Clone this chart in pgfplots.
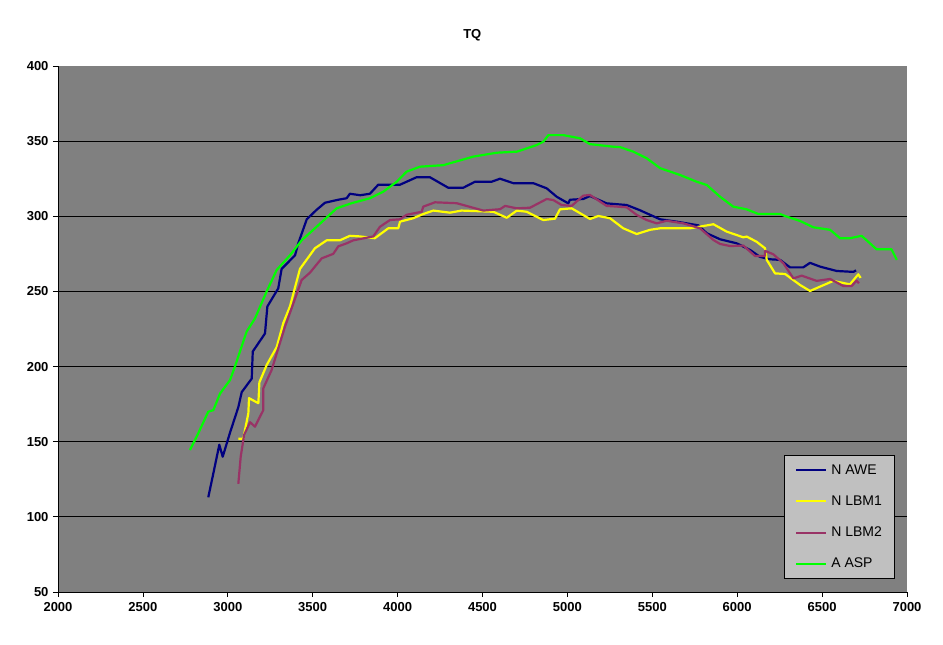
\documentclass[border=0pt]{standalone}
\usepackage{pgfplots}
\pgfplotsset{compat=1.18}
\usepackage{fontspec}
\setmainfont{Liberation Sans}

\definecolor{awe}{HTML}{000080}
\definecolor{lbmone}{HTML}{FFFF00}
\definecolor{lbmtwo}{HTML}{993366}
\definecolor{asp}{HTML}{00FF00}
\definecolor{plotbg}{HTML}{808080}
\definecolor{legbg}{HTML}{C0C0C0}

\begin{document}
\begin{tikzpicture}
\begin{axis}[
    name=ax,
    scale only axis,
    width=849pt, height=526pt,
    xmin=2000, xmax=7000,
    ymin=50, ymax=400,
    xtick={2000,2500,...,7000},
    ytick={50,100,...,400},
    axis lines*=left,
    axis line style={-, black, line width=0.8pt},
    axis background/.style={fill=plotbg},
    tick align=outside,
    major tick length=5pt,
    tick style={black, line width=0.8pt},
    extra y ticks={100,150,...,350},
    extra y tick labels={},
    extra y tick style={grid=major, major tick length=0pt},
    grid style={black, line width=0.8pt},
    /pgf/number format/assume math mode=true,
    /pgf/number format/1000 sep={},
    ticklabel style={font=\fontsize{13}{15}\selectfont\bfseries},
    xticklabel style={yshift=-2pt},
    yticklabel style={xshift=-1pt},
    title={TQ},
    title style={at={(0.488,1)}, anchor=center, yshift=25pt, font=\fontsize{13}{15}\selectfont\bfseries},
    legend style={at={(0.855,0.260)}, anchor=north west, fill=legbg, draw=black,
        line width=0.8pt, font=\fontsize{14}{16}\selectfont, inner xsep=11pt, inner ysep=7pt,
        nodes={inner sep=2pt, text=black}, row sep=16pt, column sep=2pt},
    legend cell align=left,
    legend image code/.code={\draw[#1, line width=2pt] (0pt,0pt) -- (30pt,0pt);},
    every axis plot/.append style={line width=2.2pt, line join=round},
]
\addplot[awe] coordinates {
(2885,113)(2915,129)(2950,148)(2970,140)(3013,156)(3062,173)(3082,183)(3141,192)
(3147,210)(3219,222)(3233,240)(3297,252)(3317,265)(3396,274)(3415,282)(3465,298)
(3520,304)(3572,309)(3650,311)(3700,312)(3719,315)(3780,314)(3837,315)(3886,321)
(3960,321)(4014,321)(4073,324)(4112,326)(4190,326)(4298,319)(4387,319)(4456,323)
(4554,323)(4603,325)(4682,322)(4800,322)(4878,318.6)(4937,313)(5005,308.6)(5015,311)
(5093,311.5)(5133,313.5)(5231,308.6)(5349,307.5)(5428,304)(5447,303)(5526,299)
(5546,298)(5644,296.4)(5771,294)(5821,288.7)(5899,284.7)(5997,282)(6076,277.6)
(6134,273)(6193,271.4)(6252,271)(6311,266)(6389,266)(6429,269)(6488,266.5)
(6586,263.6)(6684,263)(6700,264)
};
\addplot[lbmone] coordinates {
(3062,152)(3091,152)(3121,169)(3125,179)(3180,175.6)(3186,189.5)(3229,201)(3288,213)
(3327,229)(3366,240)(3425,265)(3513,278.7)(3582,284)(3660,284)(3719,287)(3778,286.6)
(3866,285.4)(3945,292)(4004,292)(4014,296.4)(4092,298.7)(4151,301.5)(4210,303.8)
(4308,302.4)(4377,303.8)(4564,303)(4643,299)(4702,303.8)(4760,303)(4858,297.5)
(4927,298.4)(4956,304.6)(5025,305.3)(5133,298.2)(5182,300.2)(5251,298.7)(5329,292)
(5408,288.2)(5487,291)(5546,292)(5723,292)(5860,294.7)(5938,289.8)(6036,286)
(6056,286.5)(6115,283)(6164,278.7)(6174,271)(6223,262)(6282,261.6)(6370,254.3)
(6429,250.3)(6488,253.2)(6566,257)(6664,254.7)(6713,261.4)(6727,259)
};
\addplot[lbmtwo] coordinates {
(3062,122)(3076,140)(3096,154.5)(3131,163)(3160,160)(3209,171)(3209,185.5)(3258,197.7)
(3297,212)(3337,226.6)(3386,242)(3435,257.6)(3484,262.5)(3553,272)(3621,275)(3651,280)
(3700,282)(3739,284)(3857,286.6)(3896,293)(3955,297.5)(4014,298)(4053,301)(4142,303)
(4151,306.4)(4220,309.3)(4348,308.7)(4505,303.8)(4603,304.7)(4633,306.9)(4702,305.3)
(4780,305.7)(4878,311.5)(4917,310.8)(4966,307.5)(5025,306.9)(5093,313.7)(5133,314.2)
(5231,306.9)(5349,306)(5408,300.9)(5467,297.5)(5526,295.3)(5585,297)(5683,295.3)
(5781,292)(5860,284.2)(5899,281.6)(5958,280.2)(6036,280.5)(6105,273.6)(6164,273.6)
(6164,277)(6213,274.7)(6272,268.7)(6331,258.7)(6380,260.5)(6468,257)(6547,258.3)
(6625,253.6)(6674,253.6)(6703,257.2)(6717,255.4)
};
\addplot[asp] coordinates {
(2777,144.5)(2826,155.6)(2885,170)(2915,171)(2954,182)(3013,191)(3042,200)(3111,223.3)
(3160,232)(3229,250)(3288,264.3)(3366,274)(3435,284)(3523,293)(3641,305.3)(3729,308.7)
(3837,312)(3916,316.4)(3995,323)(4053,329.7)(4132,333)(4269,334)(4446,339.7)
(4584,342.3)(4702,343)(4819,347.4)(4858,349.6)(4888,354)(4976,354)(5074,351.9)
(5133,348)(5270,346.3)(5310,346)(5388,343)(5467,338.6)(5546,332)(5663,327.5)
(5761,323)(5821,320.8)(5899,313)(5977,306.4)(6056,304.6)(6125,301.5)(6252,301.5)
(6291,299.8)(6370,296.9)(6448,292.7)(6547,291)(6606,285.4)(6664,285.4)(6733,287)
(6821,278)(6909,278)(6940,271)
};
\legend{N AWE,N LBM1,N LBM2,A ASP}
\end{axis}
\pgfresetboundingbox
\path[use as bounding box] (ax.south west) ++(-58pt,-53pt) rectangle ++(943pt,645pt);
\end{tikzpicture}
\end{document}
